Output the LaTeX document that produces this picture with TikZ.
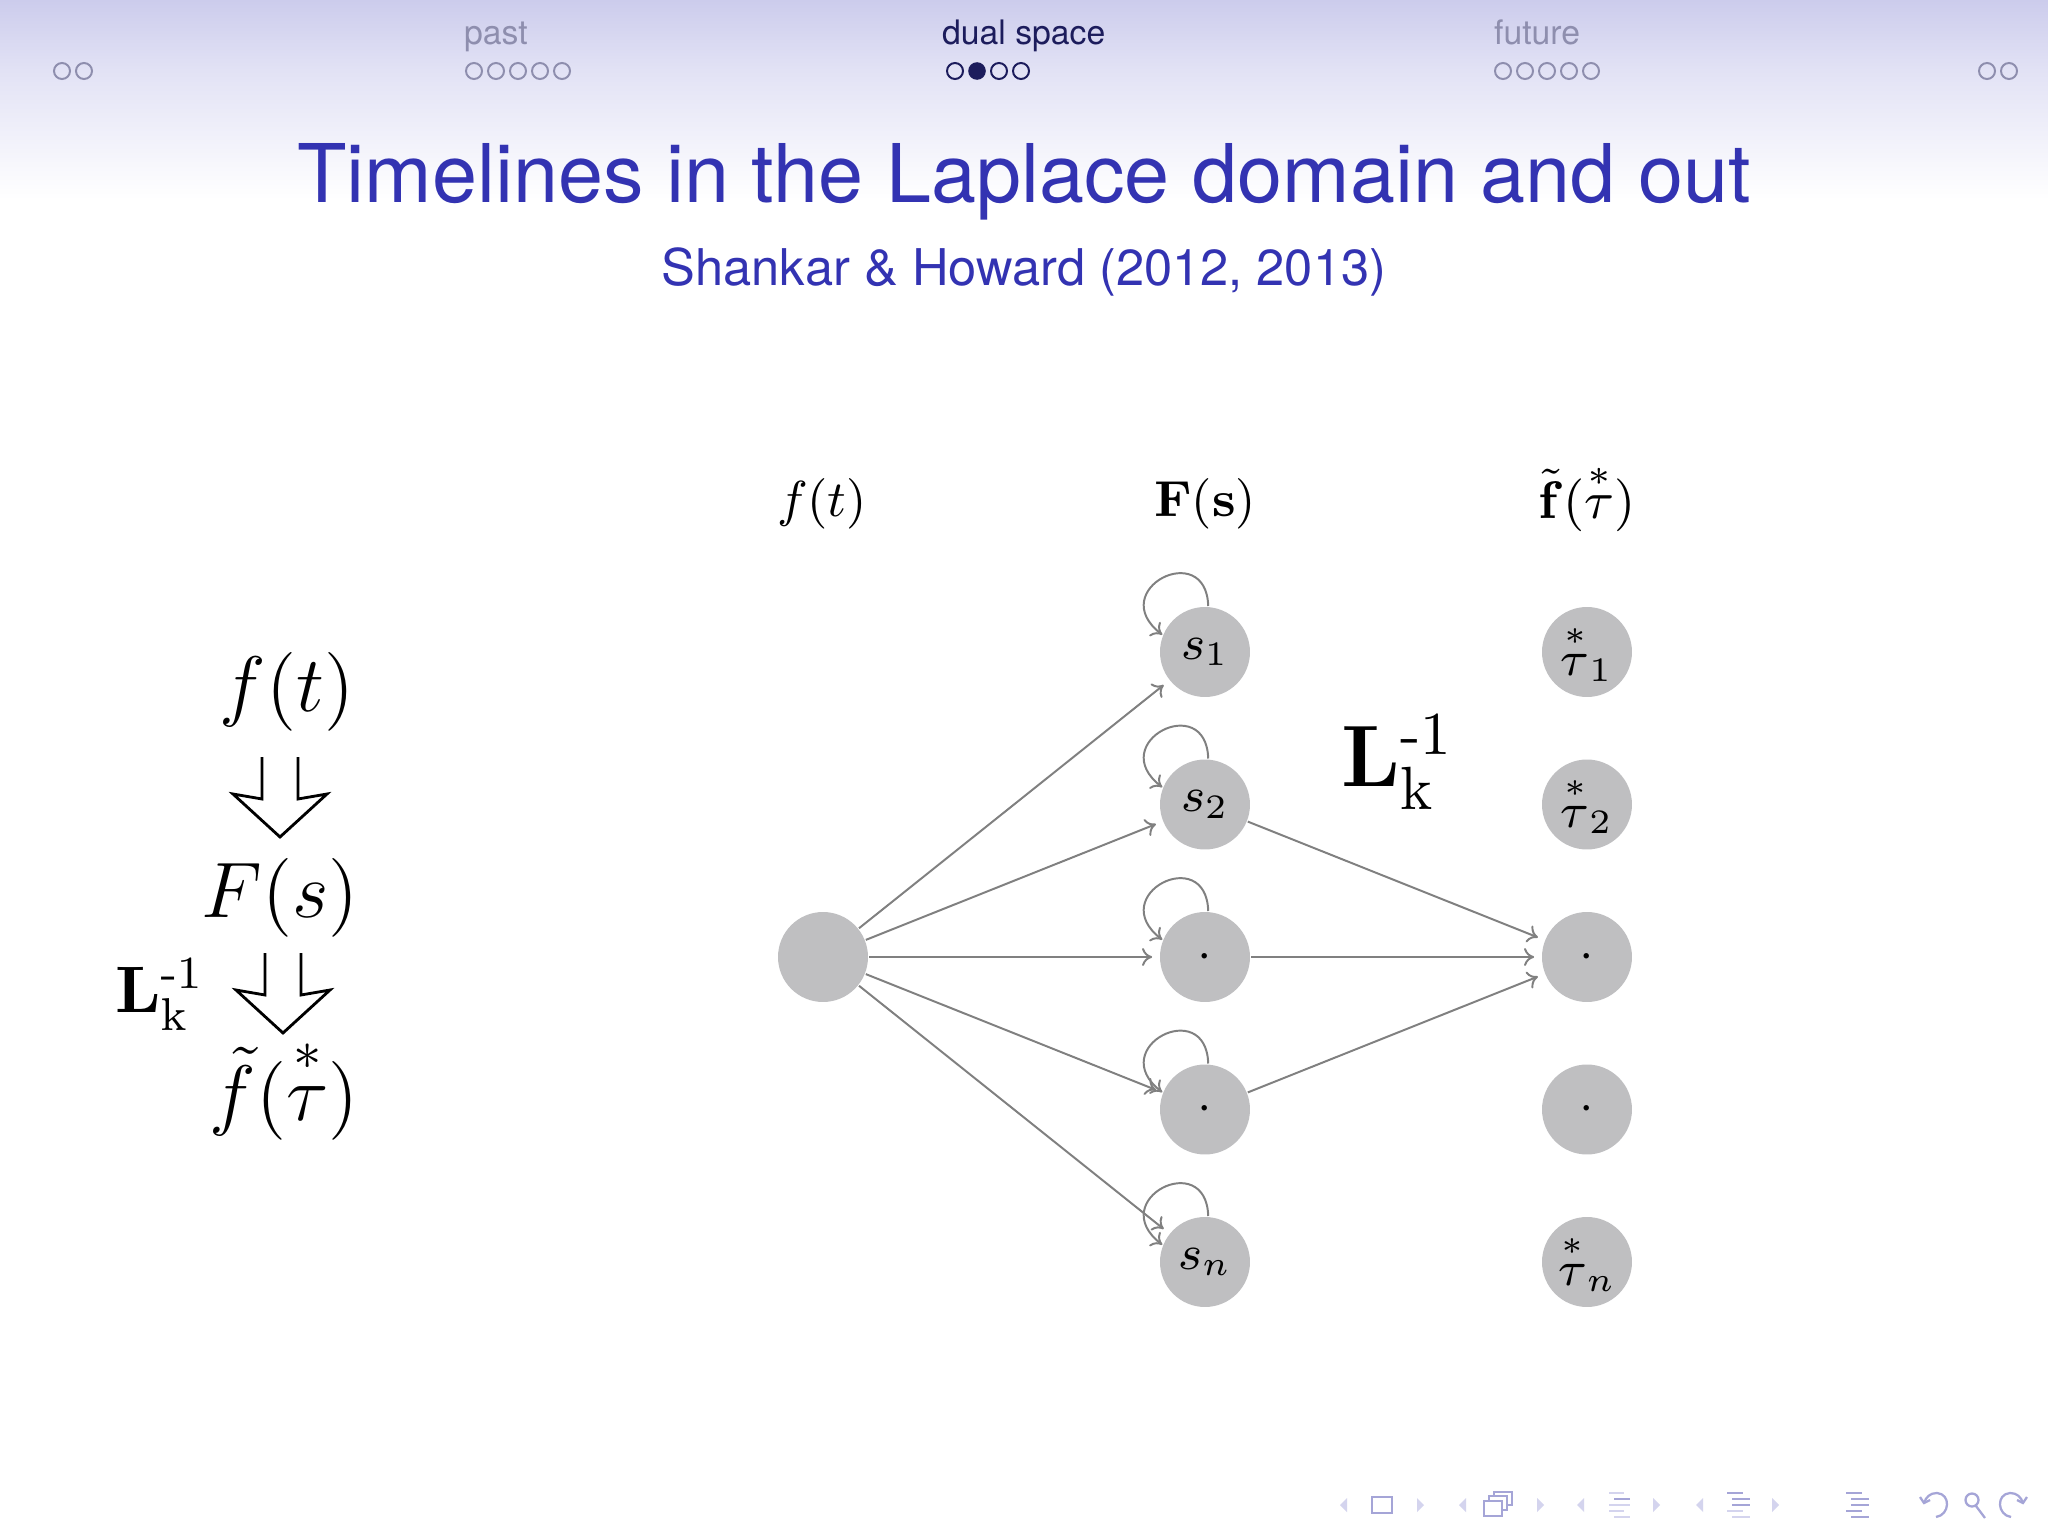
\documentclass[tikz,border=0pt]{standalone}
\usepackage{fix-cm}
\usepackage{amsmath}
\usepackage[no-math]{fontspec}
\setmainfont{TeX Gyre Heros}
\usetikzlibrary{arrows.meta}

\definecolor{structblue}{rgb}{0.2,0.2,0.7}
\definecolor{headtop}{RGB}{204,204,236}
\definecolor{headmid}{RGB}{226,226,245}
\definecolor{secdark}{RGB}{28,28,92}
\definecolor{secgray}{RGB}{142,142,174}
\definecolor{nodegray}{RGB}{191,191,193}
\definecolor{edgegray}{RGB}{128,128,128}
\definecolor{navlight}{RGB}{212,212,238}
\definecolor{navdark}{RGB}{165,165,215}

\newcommand{\minushy}{\mathchar"002D\relax}

\begin{document}
\begin{tikzpicture}[x=0.0625mm,y=0.0625mm,yscale=-1,
	state/.style={circle,fill=nodegray,minimum size=16pt,inner sep=0pt,font=\fontsize{8.7}{10}\selectfont},
	edge/.style={draw=edgegray,line width=0.35pt,-{To[length=1.8pt,width=3.2pt]},shorten >=1.2pt},
	selfloop/.style={draw=edgegray,line width=0.35pt,-{To[length=1.8pt,width=3.2pt]}},
	hollow/.pic={\draw[line width=0.5pt,line join=miter] (-18,0) -- (-18,-42) -- (-47,-37) -- (0,-80) -- (47,-37) -- (18,-42) -- (18,0);}]
		% Page and margins
		\useasboundingbox (0,0) rectangle (2048,1536);
		\fill[white] (0,0) rectangle (2048,1536);

		% Head band fading out to white
		\shade[top color=headtop,bottom color=headmid] (0,0) rectangle (2048,70);
		\shade[top color=headmid,bottom color=white] (0,70) rectangle (2048,200);

		% Section names in the head band
		\node[anchor=base west,inner sep=0pt,text=secgray,font=\fontsize{6}{7}\selectfont] (past) at (463,45) {past};
		\node[anchor=base west,inner sep=0pt,text=secdark,font=\fontsize{6}{7}\selectfont] (dual) at (941,45) {dual space};
		\node[anchor=base west,inner sep=0pt,text=secgray,font=\fontsize{6}{7}\selectfont] (future) at (1493,45) {future};

		% Mini frame dots below each section name
		\draw[secgray,line width=0.35pt] (62,71) circle (8) (84,71) circle (8);
		\draw[secgray,line width=0.35pt] (474,71) circle (8) (496,71) circle (8) (518,71) circle (8) (540,71) circle (8) (562,71) circle (8);
		\draw[secdark,line width=0.35pt] (955,71) circle (8) (999,71) circle (8) (1021,71) circle (8);
		\fill[secdark] (977,71) circle (8.8);
		\draw[secgray,line width=0.35pt] (1503,71) circle (8) (1525,71) circle (8) (1547,71) circle (8) (1569,71) circle (8) (1591,71) circle (8);
		\draw[secgray,line width=0.35pt] (1987,71) circle (8) (2009,71) circle (8);

		% Frame title and subtitle
		\node[anchor=base,text=structblue,font=\fontsize{14.4}{17}\selectfont] (title) at (1024,203) {Timelines in the Laplace domain and out};
		\node[anchor=base,text=structblue,font=\fontsize{9}{11}\selectfont] (subtitle) at (1024,285) {Shankar \& Howard (2012, 2013)};

		% Left column: the chain of transforms
		\node[anchor=base,font=\fontsize{14}{16}\selectfont] (lft) at (287,711) {$f(t)$};
		\node[anchor=base,font=\fontsize{14}{16}\selectfont] (lFs) at (280,917) {$F(s)$};
		\node[anchor=base,font=\fontsize{14}{16}\selectfont] (lftau) at (284,1120) {$\tilde{f}(\overset{*}{\tau})$};
		\node[anchor=base west,inner sep=0pt,font=\fontsize{11.7}{14}\selectfont] (lLk) at (114,1012) {$\mathbf{L}_{\mathrm{k}}^{\minushy 1}$};

		% Hollow arrows between the left column terms
		\coordinate (arrA) at (280,757);
		\coordinate (arrB) at (283,953);
		\pic at (arrA) {hollow};
		\pic at (arrB) {hollow};

		% Column heads of the network
		\node[anchor=base,font=\fontsize{9}{11}\selectfont] (ft) at (822,516) {$f(t)$};
		\node[anchor=base,font=\fontsize{9}{11}\selectfont] (Fs) at (1205,516) {$\mathbf{F}(\mathbf{s})$};
		\node[anchor=base,font=\fontsize{9.4}{11}\selectfont] (ftau) at (1587,518) {$\tilde{\mathbf{f}}(\overset{*}{\tau})$};

		% Input node
		\node[state] (src) at (823,957) {};

		% Laplace nodes
		\node[state] (s1) at (1205,652) {$s_1$};
		\node[state] (s2) at (1205,804.5) {$s_2$};
		\node[state] (s3) at (1205,957) {$\cdot$};
		\node[state] (s4) at (1205,1109.5) {$\cdot$};
		\node[state] (s5) at (1205,1262) {$s_n$};

		% Inverse nodes
		\node[state] (t1) at (1587,652) {$\overset{*}{\tau}_1$};
		\node[state] (t2) at (1587,804.5) {$\overset{*}{\tau}_2$};
		\node[state] (t3) at (1587,957) {$\cdot$};
		\node[state] (t4) at (1587,1109.5) {$\cdot$};
		\node[state] (t5) at (1587,1262) {$\overset{*}{\tau}_n$};

		% Operator label between the two layers
		\node[anchor=base west,inner sep=0pt,font=\fontsize{15.5}{18}\selectfont] (Lk) at (1340,786) {$\mathbf{L}_{\mathrm{k}}^{\minushy 1}$};

		% Input fans out to every Laplace node
		\draw[edge] (src) -- (s1);
		\draw[edge] (src) -- (s2);
		\draw[edge] (src) -- (s3);
		\draw[edge] (src) -- (s4);
		\draw[edge] (src) -- (s5);

		% Self loops on the Laplace nodes
		\draw[selfloop] (s1.86) .. controls +(-2,-68) and +(-58,-45) .. (s1.158);
		\draw[selfloop] (s2.86) .. controls +(-2,-68) and +(-58,-45) .. (s2.158);
		\draw[selfloop] (s3.86) .. controls +(-2,-68) and +(-58,-45) .. (s3.158);
		\draw[selfloop] (s4.86) .. controls +(-2,-68) and +(-58,-45) .. (s4.158);
		\draw[selfloop] (s5.86) .. controls +(-2,-68) and +(-58,-45) .. (s5.158);

		% Neighbouring Laplace nodes feed the middle inverse node
		\draw[edge] (s2) -- (t3);
		\draw[edge] (s3) -- (t3);
		\draw[edge] (s4) -- (t3);

		% Navigation symbols, bottom right
		\fill[navlight] (1347,1498) -- (1340,1505) -- (1347,1512) -- cycle;
		\draw[navdark,line width=0.45pt] (1372,1497) rectangle (1392,1513);
		\fill[navlight] (1417,1498) -- (1424,1505) -- (1417,1512) -- cycle;

		\fill[navlight] (1466,1498) -- (1459,1505) -- (1466,1512) -- cycle;
		\draw[navdark,line width=0.45pt,fill=white] (1494,1492) rectangle (1512,1505);
		\draw[navdark,line width=0.45pt,fill=white] (1489,1496) rectangle (1507,1510);
		\draw[navdark,line width=0.45pt,fill=white] (1484,1501) rectangle (1502,1516);
		\fill[navlight] (1537,1498) -- (1544,1505) -- (1537,1512) -- cycle;

		\fill[navlight] (1584,1498) -- (1577,1505) -- (1584,1512) -- cycle;
		\draw[navlight,line width=0.5pt] (1609,1493) -- (1624,1493) (1609,1505) -- (1630,1505) (1609,1511) -- (1624,1511) (1614,1517) -- (1630,1517);
		\draw[navdark,line width=0.5pt] (1614,1499) -- (1630,1499);
		\fill[navlight] (1653,1498) -- (1660,1505) -- (1653,1512) -- cycle;

		\fill[navlight] (1703,1498) -- (1696,1505) -- (1703,1512) -- cycle;
		\draw[navdark,line width=0.5pt] (1727,1493) -- (1743,1493) (1732,1499) -- (1750,1499) (1732,1505) -- (1750,1505);
		\draw[navlight,line width=0.5pt] (1727,1511) -- (1743,1511) (1732,1517) -- (1750,1517);
		\fill[navlight] (1772,1498) -- (1779,1505) -- (1772,1512) -- cycle;

		\draw[navdark,line width=0.5pt] (1846,1493) -- (1862,1493) (1851,1499) -- (1869,1499) (1851,1505) -- (1869,1505) (1846,1511) -- (1862,1511) (1851,1517) -- (1869,1517);

		\draw[navdark,line width=0.4pt] (1936,1517) .. controls (1950,1515) and (1951,1494) .. (1937,1493) .. controls (1930,1493) and (1926,1497) .. (1924,1503);
		\draw[navdark,line width=0.4pt] (1920,1497) -- (1924,1503) -- (1930,1500);
		\draw[navdark,line width=0.4pt] (1972,1500) circle (6.5) (1976,1506) -- (1985,1518);
		\draw[navdark,line width=0.4pt] (2011,1517) .. controls (1997,1515) and (1996,1494) .. (2010,1493) .. controls (2017,1493) and (2021,1497) .. (2023,1503);
		\draw[navdark,line width=0.4pt] (2027,1497) -- (2023,1503) -- (2017,1500);
\end{tikzpicture}
\end{document}
